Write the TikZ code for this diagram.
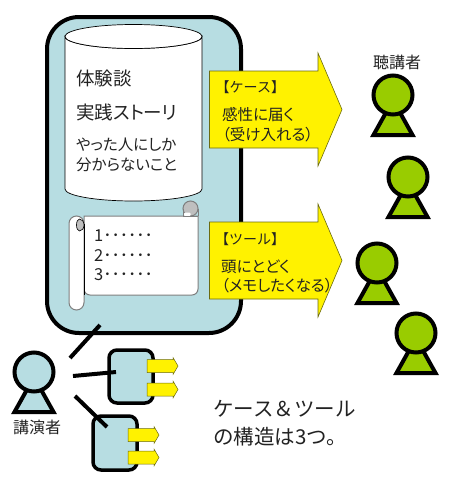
\documentclass[tikz,border=0pt]{standalone}
\usepackage{fontspec}
\setmainfont{Noto Sans CJK JP}[RawFeature=+palt]
\newfontfamily\fullw{Noto Sans CJK JP}
\definecolor{paleblue}{HTML}{B7DDE2}
\definecolor{leaf}{HTML}{99CC00}
\definecolor{txt}{HTML}{222222}
\definecolor{curl}{HTML}{BFBFBF}
\definecolor{rim}{HTML}{7F7F7F}
\definecolor{olive}{HTML}{6B6B10}
\tikzset{
  heavy/.style={line width=4pt,draw=black},
  panel/.style={heavy,fill=paleblue,rounded corners=#1},
  thinout/.style={draw=black,line width=0.7pt,fill=white},
  scrolledge/.style={draw=rim,line width=1pt},
  yarrow/.style={draw=olive,line width=0.6pt,fill=yellow},
  lbl/.style={anchor=west,inner sep=0pt,text=txt,font=\fontsize{#1}{#1}\selectfont},
  clbl/.style={anchor=center,inner sep=0pt,text=txt,font=\fontsize{#1}{#1}\selectfont},
  link/.style={line width=4pt,draw=black}
}
\newcommand{\personfig}[3]{% x, y, fill
  \path[draw=black,line width=4pt,line join=miter,fill=#3]
     (#1-19.5,#2+40) -- (#1,#2+5) -- (#1+19.5,#2+40) -- cycle;
  \path[draw=black,line width=4pt,fill=#3] (#1,#2) circle[radius=19.5];
}
\newcommand{\bigarrow}[1]{% centre y
  \path[yarrow] (209.5,#1-38.5) -- (318,#1-38.5) -- (318,#1-56.5) -- (342,#1) -- (318,#1+56.5) -- (318,#1+38.5) -- (209.5,#1+38.5) -- cycle;
}
\newcommand{\smallarrow}[2]{% left x, centre y
  \path[draw=olive,line width=0.5pt,fill=yellow] (#1,#2-6.5) -- (#1+26,#2-6.5) -- (#1+26,#2-8.5) -- (#1+31,#2) -- (#1+26,#2+8.5) -- (#1+26,#2+6.5) -- (#1,#2+6.5) -- cycle;
}
\begin{document}
\begin{tikzpicture}[x=1pt,y=-1pt]
\useasboundingbox (0,0) rectangle (453,488);
% main panel
\path[panel=32pt] (47,17) rectangle (241,333);
% cylinder
\path[thinout] (65,36.5) -- (65,189) arc[start angle=180,end angle=360,x radius=68.5,y radius=-12] -- (202,36.5) arc[start angle=0,end angle=-180,x radius=68.5,y radius=-12] -- cycle;
\path[thinout] (133.5,36.5) ellipse[x radius=68.5,y radius=12];
\node[lbl=18.5] (t1) at (76,78) {体験談};
\node[lbl=18.5] (t2) at (76,112) {実践ストーリ};
\node[lbl=15.5] (t3) at (76,145) {やった人にしか};
\node[lbl=15.5] (t4) at (76,165) {分からないこと};
% scroll sheet
\path[scrolledge,fill=white] (84,216) -- (198,216) [rounded corners=6pt] -- (198,295) -- (84,295) [sharp corners] -- cycle;
% upper curl
\path[scrolledge,fill=curl] (190.5,208.5) circle[radius=7.5];
\path[fill=white,rounded corners=1pt] (184,216) -- (184,212.5) -- (190.5,212.5) -- (190.5,216) -- cycle;
\path[draw=rim,line width=1pt] (198,208.5) -- (198,216);
\path[draw=rim,line width=1pt] (183,216) -- (198,216);
\path[draw=rim,line width=1pt] (183,208.5) -- (183,216);
% roll
\path[scrolledge,fill=white] (69,223.5) arc[start angle=180,end angle=0,x radius=7.5,y radius=-7.5] -- (84,302.5) arc[start angle=0,end angle=-180,x radius=7.5,y radius=-7.5] -- cycle;
% lower curl
\path[fill=curl,draw=black,line width=0.6pt] (79.5,219) arc[start angle=90,end angle=-90,x radius=4.5,y radius=-6] arc[start angle=270,end angle=90,x radius=3,y radius=-6] -- cycle;
\path[draw=black,line width=1pt] (84,224) -- (84,295);
\node[lbl=16.5] (n1) at (94,236) {1･･････};
\node[lbl=16.5] (n2) at (94,256) {2･･････};
\node[lbl=16.5] (n3) at (94,275) {3･･････};
% big arrows
\bigarrow{109.5}
\bigarrow{260.5}
\node[lbl=14] (c1) at (215.5,87) {\fullw 【ケース】};
\node[lbl=15.5] (c2) at (222,115) {感性に届く};
\node[lbl=15.5] (c3) at (222,135) {（受け入れる）};
\node[lbl=14] (d1) at (215,239) {\fullw 【ツール】};
\node[lbl=15.5] (d2) at (221,267) {頭にとどく};
\node[lbl=15.5] (d3) at (221,286) {（メモしたくなる）};
% listeners
\node[clbl=16] (aud) at (397,62) {聴講者};
\personfig{393}{95}{leaf}
\personfig{408}{177}{leaf}
\personfig{377}{263}{leaf}
\personfig{416}{333}{leaf}
% speaker
\personfig{34}{372}{paleblue}
\node[clbl=16] (spk) at (37,427) {講演者};
% small panels
\path[panel=8pt,line width=3.5pt] (109,350) rectangle (153,403);
\path[panel=8pt,line width=3.5pt] (93,416) rectangle (137,470);
\smallarrow{147}{366}
\smallarrow{147}{389.5}
\smallarrow{128}{435}
\smallarrow{128}{457.5}
% links
\coordinate (s1) at (70,358); \coordinate (e1) at (100,325);
\coordinate (s2) at (73,376); \coordinate (e2) at (116,372);
\coordinate (s3) at (75,396); \coordinate (e3) at (107,427);
\draw[link] (s1) -- (e1);
\draw[link] (s2) -- (e2);
\draw[link] (s3) -- (e3);
% caption
\node[lbl=20.5] (b1) at (213,409) {\fullw ケース＆ツール};
\node[lbl=20.5] (b2) at (213,437) {\fullw の構造は3つ。};
\end{tikzpicture}
\end{document}
